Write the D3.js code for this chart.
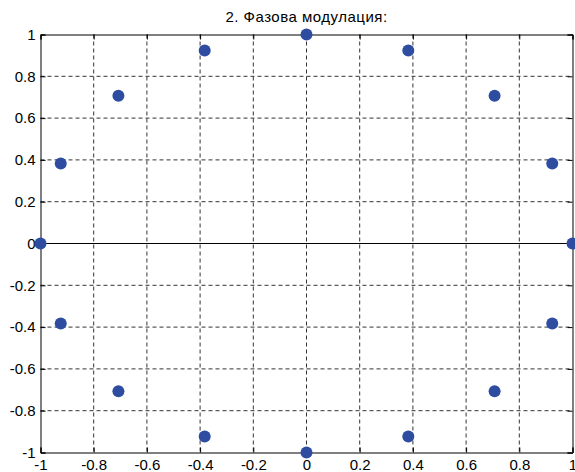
<!DOCTYPE html>
<html><head><meta charset="utf-8">
<script src="https://cdn.jsdelivr.net/npm/d3@7"></script>
<style>body{margin:0;background:#fff}svg{display:block}text{font-family:"Liberation Sans",Arial,sans-serif}</style>
</head><body><svg id="c" width="575" height="472"></svg>
<script>
const title = "2. Фазова модулация:";
const xs = [1, 0.9239, 0.7071, 0.3827, 0, -0.3827, -0.7071, -0.9239, -1, -0.9239, -0.7071, -0.3827, 0, 0.3827, 0.7071, 0.9239];
const ys = [0, 0.3827, 0.7071, 0.9239, 1, 0.9239, 0.7071, 0.3827, 0, -0.3827, -0.7071, -0.9239, -1, -0.9239, -0.7071, -0.3827];
const xTicks = [-1, -0.8, -0.6, -0.4, -0.2, 0, 0.2, 0.4, 0.6, 0.8, 1];
const yTicks = [-1, -0.8, -0.6, -0.4, -0.2, 0, 0.2, 0.4, 0.6, 0.8, 1];

const L = 40.5, R = 572.5, T = 34.5, B = 452.5;
const svg = d3.select("#c");
const x = d3.scaleLinear().domain([-1, 1]).range([L, R]);
const y = d3.scaleLinear().domain([-1, 1]).range([B, T]);
const fmt = d => String(+d.toFixed(1)).replace("\u2212", "-");

// grid
const g = svg.append("g");
g.selectAll(".gx").data(xTicks.slice(1, -1)).join("line")
  .attr("x1", d => x(d)).attr("x2", d => x(d)).attr("y1", T).attr("y2", B)
  .attr("stroke", "#333").attr("stroke-width", 1).attr("stroke-dasharray", "4,3");
g.selectAll(".gy").data(yTicks.slice(1, -1)).join("line")
  .attr("y1", d => y(d)).attr("y2", d => y(d)).attr("x1", L).attr("x2", R)
  .attr("stroke", "#333").attr("stroke-width", 1).attr("stroke-dasharray", "4,3");

// zero line
svg.append("line").attr("x1", x(-1)).attr("x2", x(1)).attr("y1", y(0)).attr("y2", y(0))
  .attr("stroke", "#000").attr("stroke-width", 1);

// axes
const ax = svg.append("g").attr("transform", `translate(0,${B})`)
  .call(d3.axisBottom(x).tickValues(xTicks).tickFormat(fmt).tickSize(-5).tickPadding(7));
const axT = svg.append("g").attr("transform", `translate(0,${T})`)
  .call(d3.axisTop(x).tickValues(xTicks).tickFormat("").tickSize(-5));
const ay = svg.append("g").attr("transform", `translate(${L},0)`)
  .call(d3.axisLeft(y).tickValues(yTicks).tickFormat(fmt).tickSize(-5).tickPadding(5));
const ayR = svg.append("g").attr("transform", `translate(${R},0)`)
  .call(d3.axisRight(y).tickValues(yTicks).tickFormat("").tickSize(-5));
[ax, axT, ay, ayR].forEach(a => {
  a.select(".domain").attr("stroke", "#000");
  a.selectAll(".tick line").attr("stroke", "#000");
  a.selectAll("text").attr("font-size", 15).attr("fill", "#000")
    .style("font-family", "'Liberation Sans', Arial, sans-serif");
});

// points
svg.append("g").selectAll("circle").data(xs.map((v, i) => [v, ys[i]])).join("circle")
  .attr("cx", d => x(d[0])).attr("cy", d => y(d[1])).attr("r", 6)
  .attr("fill", "#2E4DA0");

// title
svg.append("text").attr("x", (L + R) / 2).attr("y", 22).attr("text-anchor", "middle")
  .attr("font-size", 15).attr("letter-spacing", 0.5).attr("fill", "#000").text(title);
</script></body></html>
